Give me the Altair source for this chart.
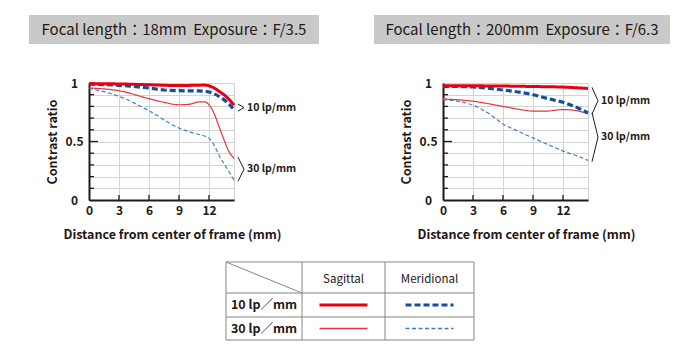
import altair as alt
import pandas as pd

# ---------------- data ----------------
panels = ["18mm", "200mm"]
panel_titles = ["Focal length：18mm\u00a0\u00a0Exposure：F/3.5",
                "Focal length：200mm\u00a0\u00a0Exposure：F/6.3"]
series = ["S10", "M10", "S30", "M30"]
freq_groups = ["10", "30"]
freq_labels = ["10 lp/mm", "30 lp/mm"]
table_rows = ["10 lp／mm", "30 lp／mm"]
table_cols = ["Sagittal", "Meridional"]

# 18mm  F/3.5
w_s10_x = [0, 3, 6, 9, 11.5, 12.2, 13, 14, 14.5]
w_s10_y = [0.995, 0.992, 0.985, 0.978, 0.982, 0.97, 0.93, 0.86, 0.81]
w_m10_x = [0, 3, 6, 7.5, 9, 11, 12, 13, 14, 14.5]
w_m10_y = [0.99, 0.98, 0.957, 0.94, 0.934, 0.932, 0.923, 0.886, 0.82, 0.77]
w_s30_x = [0, 3, 6, 7.5, 9, 10, 11, 11.6, 12, 12.5, 13, 13.5, 14, 14.5]
w_s30_y = [0.957, 0.934, 0.866, 0.835, 0.814, 0.818, 0.838, 0.838, 0.814,
           0.742, 0.629, 0.515, 0.414, 0.356]
w_m30_x = [0, 3, 6, 9, 10.5, 12, 12.5, 13, 14, 14.5]
w_m30_y = [0.955, 0.886, 0.763, 0.614, 0.571, 0.528, 0.47, 0.385, 0.242, 0.17]

# 200mm  F/6.3
t_s10_x = [0, 3, 6, 9, 12, 14.5]
t_s10_y = [0.977, 0.976, 0.974, 0.97, 0.965, 0.953]
t_m10_x = [0, 3, 6, 9, 10.5, 12, 13.5, 14.5]
t_m10_y = [0.972, 0.966, 0.94, 0.90, 0.866, 0.835, 0.787, 0.744]
t_s30_x = [0, 3, 6, 8.2, 9, 10.2, 12, 13.2, 14.5]
t_s30_y = [0.864, 0.844, 0.80, 0.767, 0.759, 0.759, 0.773, 0.766, 0.736]
t_m30_x = [0, 1.5, 3, 4.5, 6, 7.5, 9, 10.5, 12, 13.5, 14.5]
t_m30_y = [0.858, 0.844, 0.81, 0.744, 0.65, 0.588, 0.531, 0.474, 0.418, 0.375, 0.338]

curves = {
    ("18mm", "S10"): (w_s10_x, w_s10_y),
    ("18mm", "M10"): (w_m10_x, w_m10_y),
    ("18mm", "S30"): (w_s30_x, w_s30_y),
    ("18mm", "M30"): (w_m30_x, w_m30_y),
    ("200mm", "S10"): (t_s10_x, t_s10_y),
    ("200mm", "M10"): (t_m10_x, t_m10_y),
    ("200mm", "S30"): (t_s30_x, t_s30_y),
    ("200mm", "M30"): (t_m30_x, t_m30_y),
}

rows = []
for (p, s), (xs, ys) in curves.items():
    for xv, yv in zip(xs, ys):
        rows.append({"panel": p, "series": s, "x": xv, "y": yv})
df = pd.DataFrame(rows)

# ---------------- style ----------------
FONT = "Noto Sans CJK JP"
INK = "#231815"
GRID = "#d3d3d3"
BOX = "#c9c9c9"
PW, PH = 145, 117
XMAX = 14.5

STYLE = {  # series -> (colour, width, dash)
    "S10": ("#e60012", 3.0, [1, 0]),
    "M10": ("#134f9f", 3.2, [6, 3]),
    "S30": ("#e8333c", 1.2, [1, 0]),
    "M30": ("#3f7fc8", 1.2, [4, 2.5]),
}
DRAW_ORDER = ["M30", "S30", "M10", "S10"]

y_tick_values = [round(i * 0.1, 1) for i in range(11)]
x_tick_values = [0, 3, 6, 9, 12]


def x_enc():
    return alt.X("x:Q", scale=alt.Scale(domain=[0, XMAX], nice=False, zero=False),
                 axis=alt.Axis(values=x_tick_values, title="Distance from center of frame (mm)",
                               grid=True, gridColor=GRID, ticks=False, tickSize=0,
                               domainColor=INK, domainWidth=2, labelPadding=5,
                               labelFontSize=12, labelFontWeight="bold", labelColor=INK,
                               labelFlush=False, titleX=83, titleY=34,
                               titleAlign="center", titleBaseline="middle",
                               titleFontSize=12.5, titleFontWeight="bold", titleColor=INK))


def y_enc():
    return alt.Y("y:Q", scale=alt.Scale(domain=[0, 1], nice=False, zero=False),
                 axis=alt.Axis(values=y_tick_values, format="~g",
                               labelExpr="(datum.value < 0.01 || datum.value > 0.99 || abs(datum.value - 0.5) < 0.01) ? datum.label : ''",
                               title="Contrast ratio", grid=True, gridColor=GRID,
                               ticks=False, tickSize=0, domainColor=INK, domainWidth=2,
                               labelPadding=15, labelAlign="center", labelFontSize=12,
                               labelFontWeight="bold", labelColor=INK,
                               titleX=-37, titleY=PH / 2, titleAngle=-90,
                               titleAlign="center", titleBaseline="middle",
                               titleFontSize=12.5, titleFontWeight="bold", titleColor=INK))


def panel_chart(key, title, box_x0, box_x1):
    d = df[df["panel"] == key]
    cx = (box_x0 + box_x1) / 2

    tdf = pd.DataFrame({"title": [title]})
    box = alt.Chart(tdf).mark_rect(color=BOX).encode(
        x=alt.value(box_x0), x2=alt.value(box_x1), y=alt.value(-68), y2=alt.value(-39))
    ttxt = alt.Chart(tdf).mark_text(font=FONT, fontSize=15, color=INK, baseline="middle",
                                   align="center").encode(
        x=alt.value(cx), y=alt.value(-53), text="title:N")

    line_layers = []
    for s in DRAW_ORDER:
        col, w, dash = STYLE[s]
        line_layers.append(
            alt.Chart(d[d["series"] == s]).mark_line(
                interpolate="monotone", stroke=col, strokeWidth=w, strokeDash=dash
            ).encode(x=x_enc(), y=y_enc()))

    # inward axis ticks
    ytk = pd.DataFrame({"y": [v for v in y_tick_values if 0.05 < v < 0.95 and abs(v - 0.5) > 0.01]})
    ytk_mid = pd.DataFrame({"y": [0.5]})
    xtk = pd.DataFrame({"x": [v for v in x_tick_values if v > 0]})
    yticks = alt.Chart(ytk).mark_rule(color=INK, strokeWidth=1.3).encode(
        y=y_enc(), x=alt.value(0), x2=alt.value(5))
    yticks_mid = alt.Chart(ytk_mid).mark_rule(color=INK, strokeWidth=1.3).encode(
        y=y_enc(), x=alt.value(0), x2=alt.value(9))
    xticks = alt.Chart(xtk).mark_rule(color=INK, strokeWidth=1.3).encode(
        x=x_enc(), y=alt.value(PH), y2=alt.value(PH - 5))

    # brackets + labels derived from curve end values
    br_rows, lab_rows = [], []
    for g, lab in zip(freq_groups, freq_labels):
        ends = [curves[(key, "S" + g)][1][-1], curves[(key, "M" + g)][1][-1]]
        top, bot = max(ends) + 0.01, min(ends) - 0.01
        mid = (top + bot) / 2
        br_rows += [{"g": g, "i": 0, "x": 14.9, "y": top},
                    {"g": g, "i": 1, "x": 15.5, "y": mid},
                    {"g": g, "i": 2, "x": 14.9, "y": bot}]
        lab_rows.append({"g": g, "label": lab, "x": 15.8, "y": mid})
    brackets = alt.Chart(pd.DataFrame(br_rows)).mark_line(color=INK, strokeWidth=1).encode(
        x=x_enc(), y=y_enc(), detail="g:N", order="i:Q")
    labels = alt.Chart(pd.DataFrame(lab_rows)).mark_text(
        font=FONT, fontSize=10.5, fontWeight="bold", color=INK, align="left",
        baseline="middle").encode(x=x_enc(), y=y_enc(), text="label:N")

    return alt.layer(box, ttxt, *line_layers, yticks, yticks_mid, xticks, brackets, labels).properties(
        width=PW, height=PH, view=alt.ViewBackground(stroke=GRID, strokeWidth=1))


left = panel_chart(panels[0], panel_titles[0], -60, 230)
right = panel_chart(panels[1], panel_titles[1], -69, 227)

# ---------------- legend table ----------------
# table sits 137px right of the left plot's origin; its cell is only PW wide
# (the drawing overflows to the right, which the flush layout ignores)
col_edges = [0, 76, 159, 248]
row_edges = [0, 31, 55, 78]
T_OFF = 137
TX = alt.X("x:Q", scale=alt.Scale(domain=[-T_OFF, PW - T_OFF], nice=False, zero=False), axis=None)
TY = alt.Y("y:Q", scale=alt.Scale(domain=[0, 78], nice=False, zero=False, reverse=True), axis=None)

grid_rows = []
for r in row_edges:
    grid_rows.append({"x": col_edges[0], "x2": col_edges[-1], "y": r, "y2": r})
for c in col_edges:
    grid_rows.append({"x": c, "x2": c, "y": row_edges[0], "y2": row_edges[-1]})
grid_rows.append({"x": col_edges[0], "x2": col_edges[1], "y": row_edges[0], "y2": row_edges[1]})
tgrid = alt.Chart(pd.DataFrame(grid_rows)).mark_rule(color="#858585", strokeWidth=1).encode(
    x=TX, x2="x2:Q", y=TY, y2="y2:Q")

hdr = pd.DataFrame({"label": table_cols,
                    "x": [(col_edges[1] + col_edges[2]) / 2, (col_edges[2] + col_edges[3]) / 2],
                    "y": [(row_edges[0] + row_edges[1]) / 2 + 2] * 2})
thdr = alt.Chart(hdr).mark_text(font=FONT, fontSize=11.5, color=INK, baseline="middle").encode(
    x=TX, y=TY, text="label:N")

rl = pd.DataFrame({"label": table_rows,
                   "x": [(col_edges[0] + col_edges[1]) / 2] * 2,
                   "y": [(row_edges[1] + row_edges[2]) / 2, (row_edges[2] + row_edges[3]) / 2]})
trl = alt.Chart(rl).mark_text(font=FONT, fontSize=12.5, fontWeight="bold", color=INK,
                              baseline="middle").encode(x=TX, y=TY, text="label:N")

samp_rows = []
for ri, g in enumerate(freq_groups):
    yc = (row_edges[ri + 1] + row_edges[ri + 2]) / 2
    for ci, kind in enumerate(["S", "M"]):
        cc = (col_edges[ci + 1] + col_edges[ci + 2]) / 2
        samp_rows.append({"series": kind + g, "x": cc - 24, "x2": cc + 24, "y": yc})
samp_df = pd.DataFrame(samp_rows)
samp_layers = []
for s in DRAW_ORDER:
    col, w, dash = STYLE[s]
    samp_layers.append(
        alt.Chart(samp_df).transform_filter(alt.datum.series == s).mark_rule(
            stroke=col, strokeWidth=max(w, 1.3), strokeDash=dash
        ).encode(x=TX, x2="x2:Q", y=TY))

table = alt.layer(tgrid, thdr, trl, *samp_layers).properties(
    width=PW, height=78, view=alt.ViewBackground(stroke=None))

chart = alt.concat(left, right, table, columns=2, spacing={"row": 62, "column": 209},
                   align="none", bounds="flush").properties(
    padding={"left": 20, "top": 6, "right": 5, "bottom": 5}
).configure_view(stroke=None).configure(font=FONT)

chart.save("out.html", embed_options={"renderer": "svg", "actions": False})
